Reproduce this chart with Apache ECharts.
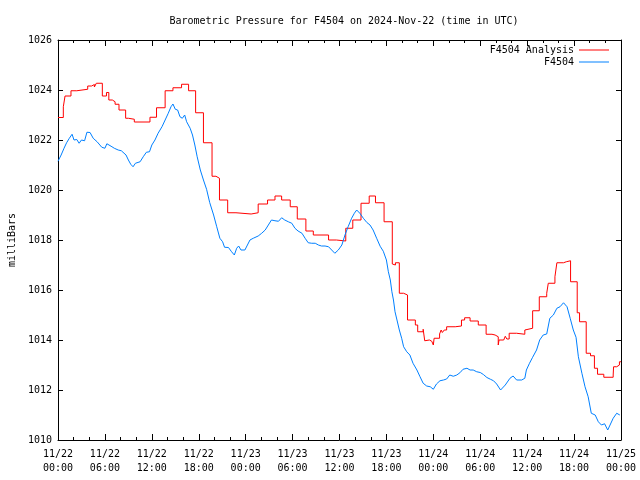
<!DOCTYPE html>
<html>
<head>
<meta charset="utf-8">
<script src="https://cdn.jsdelivr.net/npm/echarts@6/dist/echarts.min.js"></script>
<style>html,body{margin:0;padding:0;background:#fff;}#c{width:640px;height:480px;}</style>
</head>
<body>
<div id="c"></div>
<script>
// Hours since 2024-11-22 00:00 UTC
var xTickLabels = ['11/22\n00:00','11/22\n06:00','11/22\n12:00','11/22\n18:00','11/23\n00:00','11/23\n06:00','11/23\n12:00','11/23\n18:00','11/24\n00:00','11/24\n06:00','11/24\n12:00','11/24\n18:00','11/25\n00:00'];
var yTicks = [1010,1012,1014,1016,1018,1020,1022,1024,1026];

// F4504 Analysis (step values: each holds from its time until the next)
var analysisHours = [0,0.68,0.9,1.66,2.4,3.8,4.3,4.65,4.9,5.67,6.2,6.5,6.95,7.3,7.8,8.65,9.0,9.76,11.76,12.6,13.7,14.7,15.8,16.7,17.6,18.6,19.7,20.2,20.65,21.7,22.76,24.7,25.6,26.8,27.75,28.6,29.7,30.6,31.7,32.65,34.6,35.6,36.8,37.7,38.75,39.8,40.6,41.7,42.75,43.0,43.15,43.65,44.2,44.7,45.7,46.0,46.7,46.9,47.1,47.5,47.8,48.0,48.1,48.8,49.0,49.15,49.4,49.7,50.8,51.6,52.0,52.7,53.75,54.75,55.5,55.9,56.3,56.4,57.0,57.2,57.4,57.7,58.65,59.7,59.9,60.7,61.55,62.5,62.7,63.55,63.8,64.65,65.0,65.55,66.4,66.7,67.55,68.1,68.6,69.0,69.8,71.0,71.05,71.45,71.8,72];
var analysisPressure = [1022.9,1023.33,1023.76,1023.97,1024.03,1024.16,1024.22,1024.12,1024.27,1023.76,1023.9,1023.6,1023.53,1023.43,1023.2,1022.87,1022.83,1022.72,1022.91,1023.29,1023.97,1024.09,1024.23,1023.97,1023.09,1021.89,1020.55,1020.47,1019.6,1019.09,1019.04,1019.09,1019.44,1019.6,1019.76,1019.6,1019.33,1018.84,1018.36,1018.2,1018.0,1017.96,1018.47,1018.8,1019.47,1019.76,1019.49,1018.73,1017.04,1017.0,1017.09,1015.87,1015.8,1014.8,1014.6,1014.33,1014.43,1013.97,1014.0,1013.95,1013.91,1013.8,1014.07,1014.24,1014.4,1014.3,1014.4,1014.53,1014.56,1014.8,1014.89,1014.76,1014.6,1014.23,1014.2,1014.13,1013.8,1014.0,1014.04,1014.15,1014.04,1014.27,1014.23,1014.4,1014.47,1015.17,1015.73,1015.87,1016.27,1016.53,1017.09,1017.13,1017.17,1016.33,1015.09,1014.73,1013.47,1013.37,1012.87,1012.63,1012.51,1012.6,1012.93,1013.0,1013.13,1013.13];

// F4504 observations
var obsHours = [0.0,0.4,0.77,1.1,1.45,1.8,2.05,2.4,2.7,3.0,3.4,3.7,4.1,4.5,5.0,5.6,6.0,6.25,6.5,6.9,7.2,7.7,8.1,8.7,9.0,9.3,9.6,9.9,10.5,10.9,11.3,11.7,12.0,12.4,12.8,13.3,13.7,14.1,14.45,14.7,15.0,15.3,15.6,15.9,16.2,16.45,16.9,17.2,17.5,17.8,18.2,18.6,19.0,19.4,19.9,20.3,20.7,21.05,21.3,21.8,22.2,22.55,22.85,23.1,23.4,23.9,24.1,24.55,24.97,25.6,26.05,26.5,26.9,27.3,27.75,28.2,28.6,29.0,29.45,29.9,30.3,30.7,31.2,31.6,32.0,32.45,32.9,33.3,33.7,34.15,34.6,35.0,35.4,35.85,36.3,36.7,37.1,37.55,37.9,38.2,38.6,39.05,39.5,39.9,40.3,40.75,41.2,41.6,42.0,42.25,42.5,42.7,42.9,43.1,43.35,43.65,43.95,44.2,44.6,45.0,45.4,45.9,46.3,46.7,47.15,47.6,48.0,48.4,48.85,49.3,49.7,50.1,50.55,51.0,51.4,51.8,52.3,52.7,53.1,53.55,54.0,54.4,54.85,55.3,55.7,56.1,56.6,57.2,57.8,58.2,58.65,59.3,59.7,59.9,60.3,60.7,61.2,61.6,62.05,62.5,62.9,63.35,63.8,64.2,64.65,64.85,65.1,65.5,65.9,66.25,66.55,67.0,67.4,67.8,68.2,68.7,69.1,69.5,69.9,70.3,70.6,71.0,71.45,71.85];
var obsPressure = [1021.15,1021.4,1021.67,1021.89,1022.07,1022.23,1022.0,1022.02,1021.87,1022.0,1021.97,1022.31,1022.3,1022.07,1021.93,1021.71,1021.67,1021.85,1021.91,1021.73,1021.67,1021.6,1021.57,1021.4,1021.2,1021.03,1020.93,1021.07,1021.13,1021.33,1021.51,1021.53,1021.8,1022.0,1022.27,1022.53,1022.8,1023.07,1023.33,1023.44,1023.23,1023.2,1022.93,1022.87,1023.0,1022.73,1022.47,1022.2,1021.8,1021.33,1020.8,1020.4,1020.03,1019.5,1019.0,1018.53,1018.07,1017.93,1017.71,1017.7,1017.53,1017.4,1017.67,1017.76,1017.6,1017.6,1017.67,1018.0,1018.07,1018.16,1018.27,1018.4,1018.6,1018.8,1018.77,1018.75,1018.89,1018.8,1018.73,1018.67,1018.47,1018.36,1018.27,1018.07,1017.89,1017.87,1017.87,1017.8,1017.76,1017.76,1017.73,1017.6,1017.47,1017.6,1017.8,1018.2,1018.53,1018.87,1019.07,1019.2,1019.07,1018.87,1018.7,1018.6,1018.4,1018.07,1017.75,1017.55,1017.2,1016.73,1016.4,1015.93,1015.6,1015.13,1014.8,1014.4,1014.07,1013.73,1013.53,1013.4,1013.07,1012.8,1012.53,1012.27,1012.16,1012.13,1012.03,1012.24,1012.37,1012.4,1012.44,1012.6,1012.55,1012.6,1012.69,1012.83,1012.87,1012.8,1012.8,1012.73,1012.7,1012.62,1012.5,1012.43,1012.37,1012.24,1012.0,1012.2,1012.47,1012.56,1012.4,1012.4,1012.47,1012.8,1013.07,1013.31,1013.6,1014.0,1014.2,1014.24,1014.87,1015.0,1015.27,1015.33,1015.49,1015.45,1015.33,1014.87,1014.4,1014.11,1013.33,1012.67,1012.13,1011.73,1011.07,1011.0,1010.73,1010.6,1010.65,1010.4,1010.6,1010.87,1011.07,1011.0];

function pairs(xs, ys){ var out=[]; for(var i=0;i<xs.length;i++) out.push([xs[i], ys[i]]); return out; }

var FONT = 'DejaVu Sans Mono';
var chart = echarts.init(document.getElementById('c'), null, {renderer:'canvas'});
var baseX = {
  type:'value', min:0, max:72, interval:6,
  axisLine:{show:true, onZero:false, lineStyle:{color:'#000', width:1}},
  axisTick:{show:true, inside:true, length:6, lineStyle:{color:'#000'}},
  minorTick:{show:true, splitNumber:3, length:3, lineStyle:{color:'#000'}},
  splitLine:{show:false}, minorSplitLine:{show:false}
};
var baseY = {
  type:'value', min:1010, max:1026, interval:2,
  axisLine:{show:true, onZero:false, lineStyle:{color:'#000', width:1}},
  axisTick:{show:true, inside:true, length:5, lineStyle:{color:'#000'}},
  splitLine:{show:false}
};
chart.setOption({
  animation:false,
  backgroundColor:'#fff',
  title:{
    text:'Barometric Pressure for F4504 on 2024-Nov-22 (time in UTC)',
    left:339, top:11, textAlign:'center',
    textStyle:{fontFamily:FONT, fontSize:10, fontWeight:'normal', color:'#000'}
  },
  legend:[
    {data:['F4504 Analysis'], right:31, top:45, align:'right', orient:'vertical',
     itemWidth:30, itemHeight:1, itemGap:0, icon:'rect', padding:0,
     textStyle:{fontFamily:FONT, fontSize:10, color:'#000'}},
    {data:['F4504'], right:31, top:57, align:'right', orient:'vertical',
     itemWidth:30, itemHeight:1, itemGap:0, icon:'rect', padding:0,
     textStyle:{fontFamily:FONT, fontSize:10, color:'#000'}}
  ],
  grid:{left:58, right:19, top:40, bottom:40, containLabel:false, outerBoundsMode:'none'},
  xAxis:[
    Object.assign({}, baseX, {position:'bottom',
      axisLabel:{show:true, margin:7, fontFamily:FONT, fontSize:10, color:'#000', lineHeight:14,
        formatter:function(v){ var i=Math.round(v/6); return xTickLabels[i]||''; }}}),
    Object.assign({}, baseX, {position:'top', axisLabel:{show:false}})
  ],
  yAxis:[
    Object.assign({}, baseY, {position:'left', name:'milliBars', nameLocation:'middle', nameGap:41, nameRotate:90,
      nameTextStyle:{fontFamily:FONT, fontSize:10, color:'#000'},
      axisLabel:{show:true, margin:6, fontFamily:FONT, fontSize:10, color:'#000',
        formatter:function(v){ return yTicks.indexOf(v)>=0 ? String(v) : ''; }}}),
    Object.assign({}, baseY, {position:'right', axisLabel:{show:false}})
  ],
  series:[
    {name:'F4504 Analysis', type:'line', step:'end', showSymbol:false, symbol:'none',
     data:pairs(analysisHours, analysisPressure), color:'#ff0000',
     lineStyle:{color:'#ff0000', width:1}, itemStyle:{color:'#ff0000'}, z:2},
    {name:'F4504', type:'line', showSymbol:false, symbol:'none',
     data:pairs(obsHours, obsPressure), color:'#0080ff',
     lineStyle:{color:'#0080ff', width:1}, itemStyle:{color:'#0080ff'}, z:3}
  ]
});
</script>
</body>
</html>
